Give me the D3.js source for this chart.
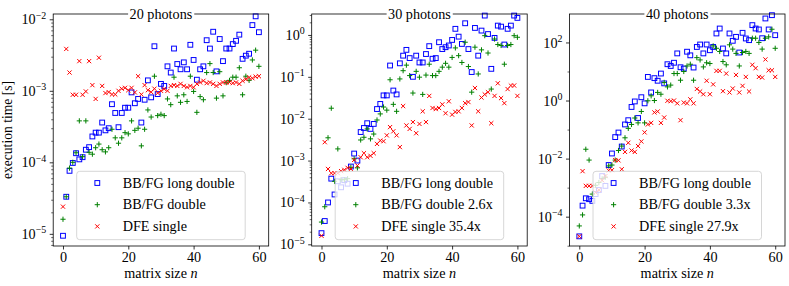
<!DOCTYPE html>
<html><head><meta charset="utf-8">
<script src="https://cdnjs.cloudflare.com/ajax/libs/d3/7.8.5/d3.min.js"></script>
<style>
body{margin:0;background:#fff}
svg{display:block}
text{font-family:"Liberation Serif","DejaVu Serif",serif;fill:#000}
</style></head>
<body><svg id="chart" width="789" height="286"></svg>
<script>
// ---------------- data ----------------
const matrixSizes = d3.range(0, 61);
const xTicks = [0, 20, 40, 60];
const panelTitles = ["20 photons", "30 photons", "40 photons"];
const legendLabels = [
  ["BB/FG long double", "BB/FG double", "DFE single"],
  ["BB/FG long double", "BB/FG double 2.6x", "DFE single 35.4x"],
  ["BB/FG long double", "BB/FG double 3.3x", "DFE single 27.9x"]
];
const yTickExponents = [[-5,-4,-3,-2], [-5,-4,-3,-2,-1,0], [-4,-2,0,2]];

const photons20LongDouble = [9.4e-6,3.3e-5,7.6e-5,9.8e-5,1.34e-4,1.1e-4,1.18e-4,1.5e-4,1.63e-4,2.3e-4,
 2.6e-4,2.6e-4,3.6e-4,2.8e-4,3.0e-4,6.5e-4,4.9e-4,3.1e-4,4.9e-4,5.8e-4,
 5.8e-4,9.5e-4,6.7e-4,7.7e-4,3.6e-4,7.5e-4,1.4e-3,8.1e-4,4.2e-3,9.0e-4,
 1.25e-3,1.17e-3,2.2e-3,1.8e-3,3.9e-3,2.37e-3,2.0e-3,2.5e-3,2.0e-3,4.4e-3,
 2.7e-3,1.43e-3,2.0e-3,2.2e-3,5.1e-3,3.9e-3,6.7e-3,1.87e-3,5.3e-3,2.6e-3,
 3.9e-3,3.9e-3,4.5e-3,5.0e-3,6.1e-3,2.8e-3,3.1e-3,3.3e-3,8.3e-3,1.1e-2,6.6e-3];
const photons20Double = [1.6e-5,3.3e-5,8.3e-5,1.0e-4,1.36e-4,3.8e-4,1.2e-4,3.8e-4,1.38e-4,1.3e-4,
 1.6e-4,1.8e-4,1.5e-4,1.4e-4,1.6e-4,2.9e-4,2.2e-4,1.85e-4,2.2e-4,2.6e-4,
 2.5e-4,3.8e-4,2.8e-4,3.0e-4,1.7e-4,2.9e-4,5.4e-4,4.3e-4,1.6e-3,4.5e-4,
 4.7e-4,4.5e-4,7.7e-4,6.4e-4,1.55e-3,8.5e-4,6.9e-4,8.8e-4,7.1e-4,1.6e-3,
 9.8e-4,5.0e-4,8.3e-4,7.5e-4,1.8e-3,2.4e-3,1.8e-3,7.9e-4,1.85e-3,8.5e-4,
 1.3e-3,1.4e-3,1.55e-3,1.55e-3,2.1e-3,8.8e-4,1.6e-3,1.4e-3,2.7e-3,3.7e-3,2.2e-3];
const photons20DFE = [2.4e-5,3.85e-3,1.8e-3,8.8e-4,8.8e-4,2.6e-3,8.8e-4,9.8e-4,2.6e-3,1.2e-3,
 7.7e-4,2.9e-3,1.17e-3,9.3e-4,9.6e-4,8.9e-4,8.9e-4,1.0e-3,1.07e-3,1.1e-3,
 1.02e-3,1.1e-3,9.5e-4,1.6e-3,8.9e-4,1.2e-3,1.02e-3,9.6e-4,1.07e-3,9.3e-4,
 1.0e-3,1.06e-3,1.0e-3,1.17e-3,1.2e-3,1.17e-3,1.25e-3,1.17e-3,1.12e-3,1.17e-3,
 1.12e-3,1.25e-3,1.31e-3,1.38e-3,1.28e-3,1.31e-3,1.25e-3,1.17e-3,1.25e-3,1.31e-3,
 1.31e-3,1.31e-3,1.28e-3,1.31e-3,1.25e-3,1.38e-3,1.45e-3,1.54e-3,1.5e-3,1.58e-3,1.6e-3];

const photons30LongDouble = [1.85e-5,3.6e-5,1.0e-4,3.7e-4,1.55e-4,3.2e-4,2.3e-4,3.4e-4,2.8e-4,7.2e-4,
 1.47e-3,1.0e-3,4.8e-3,6.0e-3,7.8e-3,5.7e-3,7.5e-3,1.7e-2,2.25e-2,3.6e-2,
 3.6e-2,0.186,4.7e-2,3.8e-2,0.21,0.32,0.44,0.28,0.10,0.32,
 0.22,0.22,0.35,0.54,0.27,0.28,0.67,0.46,0.51,0.56,
 0.76,1.4,0.91,0.61,1.9,0.46,0.13,1.47,0.32,1.27,
 2.9,1.05,0.155,0.85,1.67,1.58,0.59,1.4,1.67,2.9,2.55];
const photons30Double = [3.4e-5,7.9e-5,3.5e-3,1.78e-2,3.2e-4,1.9e-3,3.5e-4,3.5e-4,3.7e-4,6.9e-4,
 1.1e-3,6.7e-4,3.1e-3,3.6e-3,5.7e-3,3.3e-3,4.3e-3,9.3e-3,1.3e-2,1.9e-2,
 1.6e-2,8.5e-2,2.2e-2,1.5e-2,8.9e-2,0.14,0.19,0.107,4.1e-2,0.135,
 9.8e-2,3.8e-2,0.11,0.2,0.107,0.107,0.135,0.17,0.21,0.17,
 0.29,0.49,0.32,0.22,0.67,0.176,4.3e-2,0.51,0.117,0.44,
 0.96,0.37,5.1e-2,0.8,0.59,0.56,0.2,0.56,0.59,0.96,0.88];
const photons30DFE = [1.6e-5,2.75e-3,6.3e-4,5.0e-4,5.0e-4,5.0e-4,5.6e-4,6.0e-4,6.7e-4,6.3e-4,
 1.04e-3,7.6e-4,1.2e-3,1.5e-3,1.2e-3,1.3e-3,1.5e-3,2.5e-3,3.0e-3,2.9e-3,
 4.0e-3,6.3e-3,5.0e-3,4.0e-3,2.1e-3,2.0e-2,6.9e-3,5.7e-3,8.3e-3,4.5e-3,
 7.5e-3,1.5e-2,8.3e-3,3.5e-2,1.8e-2,1.7e-2,1.8e-2,2.2e-2,1.35e-2,2.6e-2,
 1.25e-2,1.45e-2,1.5e-2,1.8e-2,2.35e-2,2.5e-2,6.9e-3,5.4e-2,1.5e-2,3.2e-2,
 3.8e-2,4.3e-2,7.8e-3,3.5e-2,7.0e-2,3.1e-2,2.35e-2,5.1e-2,6.2e-2,6.2e-2,3.5e-2];

const photons40LongDouble = [2.1e-5,2.4e-4,4.3e-4,4.0e-4,3.5e-4,6.0e-4,8.3e-4,2.5e-3,1.15e-3,6.0e-3,
 1.5e-2,5.5e-2,7.9e-2,2.6e-2,0.15,0.21,0.6,0.93,0.25,1.3,
 0.8,6.5,1.9,5.9,4.8,8.5,3.9,17.8,15.5,20,
 42,14,12.6,48,36,13.7,70,85,42,85,
 54,70,204,302,62,42,204,114,156,45,
 215,137,120,395,302,280,140,670,280,870,178];
const photons40Double = [4.8e-5,1.15e-4,2.1e-2,8.9e-3,6.0e-4,1.2e-3,1.5e-3,2.0e-3,2.3e-3,5.6e-3,
 6.0e-3,8.9e-3,1.9e-2,2.7e-2,5.2e-2,0.11,0.15,0.25,0.17,0.42,
 0.17,0.98,1.45,1.0,1.9,1.65,4.2,2.95,3.4,8.5,
 8.5,5,10,15.5,17.8,5,30,25,14.4,20,
 18.8,76,63,49,22,17,83,59,42,15.5,
 45,49,42,140,140,100,59,140,156,285,63];
const photons40DFE = [2.1e-5,3.7e-3,1.15e-3,1.15e-3,1.15e-3,6.8e-4,8.3e-4,1.8e-3,2.5e-3,3.9e-3,
 4.0e-3,8.9e-3,8.7e-3,4.3e-3,1.7e-2,3.5e-2,1.9e-2,1.7e-2,2.7e-2,3.9e-2,
 8.0e-2,0.15,0.17,0.39,0.42,0.17,0.26,0.98,0.95,1.0,
 0.8,0.21,0.85,0.8,1.1,0.8,2.5,2.05,1.65,4.8,
 1.65,3.6,10.5,10.5,2.1,8.5,1.9,2.6,7.6,1.9,
 3.2,6.5,2.05,17,13,6.5,6.2,26,11,11,6.5];

const seriesByPanel = [
  [photons20LongDouble, photons20Double, photons20DFE],
  [photons30LongDouble, photons30Double, photons30DFE],
  [photons40LongDouble, photons40Double, photons40DFE]
];

// ---------------- layout / style ----------------
const panelLeft = [53.2, 311.7, 569.5];
const panelW = 215.5, plotTop = 14, plotBottom = 246;
const yLogDomain = [[-5.17, -1.926], [-5.04, 0.5], [-5.01, 2.98]];
const colors = ["#0000ff", "#008000", "#ff0000"];
const FS = 14.2;

const svg = d3.select("#chart");

function marker(g, kind, x, y, color) {
  if (kind === 0) {
    const s = 4.8;
    g.append("rect").attr("x", x - s/2).attr("y", y - s/2).attr("width", s).attr("height", s)
      .attr("fill", "none").attr("stroke", color).attr("stroke-width", 1);
  } else if (kind === 1) {
    const a = 2.6;
    g.append("path").attr("d", `M${x-a},${y}H${x+a}M${x},${y-a}V${y+a}`)
      .attr("stroke", color).attr("stroke-width", 1).attr("fill", "none");
  } else {
    const a = 2.1;
    g.append("path").attr("d", `M${x-a},${y-a}L${x+a},${y+a}M${x-a},${y+a}L${x+a},${y-a}`)
      .attr("stroke", color).attr("stroke-width", 1).attr("fill", "none");
  }
}

seriesByPanel.forEach((series, p) => {
  const g = svg.append("g").attr("transform", `translate(${panelLeft[p]},0)`);
  const x = d3.scaleLinear().domain([-3, 63]).range([0, panelW]);
  const y = d3.scaleLog().domain([10 ** yLogDomain[p][0], 10 ** yLogDomain[p][1]]).range([plotBottom, plotTop]);

  // points
  series.forEach((vals, s) => {
    const sg = g.append("g");
    vals.forEach((v, i) => marker(sg, s, x(matrixSizes[i]), y(v), colors[s]));
  });

  // legend (lower center)
  const lw = 168.5, lh = 68.4;
  const lx = panelW / 2 - lw / 2, ly = plotBottom - 6.3 - lh;
  const lg = g.append("g").attr("transform", `translate(${lx},${ly})`);
  lg.append("rect").attr("width", lw).attr("height", lh).attr("rx", 3)
    .attr("fill", "#fff").attr("fill-opacity", 0.8).attr("stroke", "#cccccc").attr("stroke-width", 0.8);
  legendLabels[p].forEach((lab, s) => {
    const cy = 11.7 + s * 21.7;
    marker(lg, s, 20.6, cy, colors[s]);
    lg.append("text").attr("x", 46).attr("y", cy + 4.8).attr("font-size", FS).text(lab);
  });

  // frame
  g.append("rect").attr("x", 0).attr("y", plotTop).attr("width", panelW).attr("height", plotBottom - plotTop)
    .attr("fill", "none").attr("stroke", "#000").attr("stroke-width", 0.8);

  // title with white backing box
  const tt = g.append("text").attr("x", panelW / 2).attr("y", 18.5).attr("text-anchor", "middle").attr("font-size", FS).text(panelTitles[p]);
  const bb = tt.node().getBBox();
  g.insert("rect", () => tt.node()).attr("x", bb.x - 1.5).attr("y", bb.y + 1).attr("width", bb.width + 3).attr("height", bb.height - 1)
    .attr("fill", "#fff");

  // x axis
  const xa = g.append("g").attr("transform", `translate(0,${plotBottom})`)
    .call(d3.axisBottom(x).tickValues(xTicks).tickSize(3.5).tickPadding(2).tickFormat(d3.format("d")));
  xa.select(".domain").remove();
  xa.selectAll("line").attr("stroke-width", 0.8);
  xa.selectAll("text").attr("font-size", FS).attr("font-family", "Liberation Serif");

  // y axis major
  const exps = yTickExponents[p];
  const ya = g.append("g").call(d3.axisLeft(y).tickValues(exps.map(e => 10 ** e)).tickSize(3.5).tickPadding(3.5).tickFormat(() => ""));
  ya.select(".domain").remove();
  ya.selectAll("line").attr("stroke-width", 0.8);
  ya.selectAll(".tick text").each(function(d) {
    const t = d3.select(this).attr("font-size", FS).attr("font-family", "Liberation Serif");
    const e = Math.round(Math.log10(d));
    t.append("tspan").text("10");
    t.append("tspan").attr("font-size", FS * 0.7).attr("dy", -5.5).text(e < 0 ? "\u2212" + (-e) : String(e));
  });

  // y minor ticks
  let minor = [];
  const lo = Math.floor(yLogDomain[p][0]), hi = Math.ceil(yLogDomain[p][1]);
  if (p < 2) {
    for (let e = lo; e <= hi; e++) for (let k = 2; k <= 9; k++) minor.push(k * 10 ** e);
  } else {
    for (let e = lo; e <= hi; e++) if (!exps.includes(e)) minor.push(10 ** e);
  }
  const [d0, d1] = y.domain();
  minor = minor.filter(v => v > d0 && v < d1);
  const ym = g.append("g").call(d3.axisLeft(y).tickValues(minor).tickSize(2).tickFormat(() => ""));
  ym.select(".domain").remove();
  ym.selectAll("line").attr("stroke-width", 0.6);

  // x label
  const xl = g.append("text").attr("x", panelW / 2).attr("y", 278).attr("text-anchor", "middle").attr("font-size", FS);
  xl.append("tspan").text("matrix size ");
  xl.append("tspan").attr("font-style", "italic").text("n");
});

// y label
svg.append("text").attr("transform", `translate(12,${(plotTop + plotBottom) / 2}) rotate(-90)`)
  .attr("text-anchor", "middle").attr("font-size", 13.6).text("execution time [s]");
</script>
</body></html>
